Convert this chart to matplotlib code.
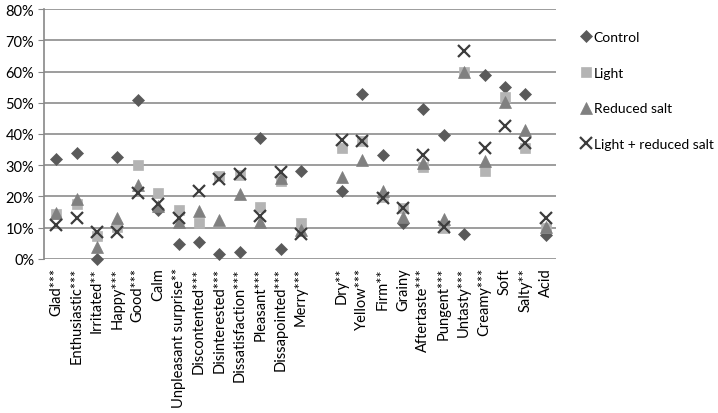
import matplotlib.pyplot as plt

emotions = ["Glad***", "Enthusiastic***", "Irritated**", "Happy***", "Good***", "Calm",
            "Unpleasant surprise**", "Discontented***", "Disinterested***",
            "Dissatisfaction***", "Pleasant***", "Dissapointed***", "Merry***"]
sensory = ["Dry**", "Yellow***", "Firm**", "Grainy", "Aftertaste***", "Pungent***",
           "Untasty***", "Creamy***", "Soft", "Salty**", "Acid"]

# valeurs en %, emotions puis sensoriel
control = [32, 34, 0, 32.5, 51, 15.5, 4.6, 5.3, 1.6, 2.2, 38.8, 3.2, 28,
           21.7, 52.7, 33.4, 11.5, 48.1, 39.6, 7.8, 58.9, 55.2, 52.8, 7.6]
light = [14.2, 17.5, 7.2, 10.2, 30.2, 21, 15.6, 11.5, 26.6, 27, 16.6, 24.8, 11.6,
         35.6, 37.8, 19.8, 16.2, 29.4, 9.7, 59.8, 28, 52, 35.6, 9.8]
reduced = [14.8, 19.2, 3.7, 13, 23.5, 17, 11.8, 15.4, 12.3, 20.8, 11.7, 26, 9.3,
           26.2, 31.7, 21.6, 13.4, 30.8, 12.6, 59.8, 31.2, 50.3, 41.2, 10.2]
light_reduced = [10.8, 13.2, 8.5, 8.6, 21, 17.5, 13.1, 21.6, 25.7, 27.3, 13.8, 27.8, 7.9,
                 38, 37.9, 19.5, 16.2, 33.3, 10.1, 66.6, 35.6, 42.7, 37.2, 13.1]

labels = emotions + [""] + sensory
xpos = list(range(len(emotions))) + list(range(len(emotions) + 1, len(labels)))

plt.rcParams['font.family'] = ['Lato', 'DejaVu Sans']

fig = plt.figure(figsize=(7.18, 4.14), dpi=100)
ax = fig.add_axes([44 / 718, 1 - 259.7 / 414, 512 / 718, 249.4 / 414])

series = [
    ("Control", control, "D", "#5a5a5a", 6.5),
    ("Light", light, "s", "#b4b4b4", 7.5),
    ("Reduced salt", reduced, "^", "#808080", 8),
    ("Light + reduced salt", light_reduced, "x", "#3c3c3c", 8),
]
for name, vals, mk, col, ms in series:
    ax.plot(xpos, [v / 100 for v in vals], linestyle="none", marker=mk, color=col,
            markersize=ms, markeredgewidth=1.6 if mk == "x" else 0.5,
            label=name, clip_on=False, zorder=3)

ax.set_ylim(0, 0.8)
ax.set_xlim(-0.6, len(labels) - 0.5)
ax.set_yticks([i / 10 for i in range(9)])
ax.set_yticklabels([f"{i * 10}%" for i in range(9)], fontsize=10.5)
ax.set_xticks(range(len(labels)))
ax.set_xticklabels(labels, rotation=90, fontsize=10.5)
ax.tick_params(axis="x", length=0, pad=6)
ax.tick_params(axis="y", length=4, color="#888888", pad=3)
ax.yaxis.grid(True, color="#8c8c8c", linewidth=1.2)
ax.set_axisbelow(True)
for s in ["top", "right", "bottom"]:
    ax.spines[s].set_visible(False)
ax.spines["left"].set_color("#888888")
ax.spines["left"].set_linewidth(1.2)

fig.legend(loc="upper left", bbox_to_anchor=(573 / 718, 1 - 28 / 414), frameon=False,
           fontsize=10, handletextpad=0.0, labelspacing=1.7, handlelength=1.2,
           borderaxespad=0, borderpad=0.3)

fig.savefig("out.png", dpi=100)
